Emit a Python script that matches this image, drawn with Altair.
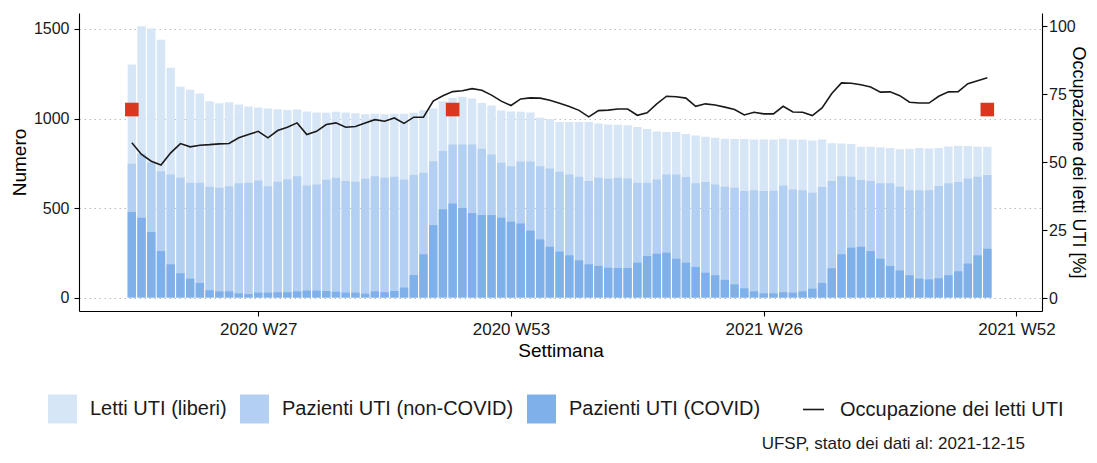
import altair as alt
import pandas as pd

# ---- categories -------------------------------------------------------------
weeks = [f"2020 W{w}" for w in range(14, 54)] + [f"2021 W{w}" for w in range(1, 50)]
axis_weeks = weeks + ["2021 W50", "2021 W51", "2021 W52"]
tick_labels = ["2020 W27", "2020 W53", "2021 W26", "2021 W52"]

series_names = ["Letti UTI (liberi)", "Pazienti UTI (non-COVID)", "Pazienti UTI (COVID)"]
line_name = "Occupazione dei letti UTI"
caption = "UFSP, stato dei dati al: 2021-12-15"

# ---- values -----------------------------------------------------------------
# total ICU beds (top of the light bars)
letti_totali = [
    1301, 1515, 1502, 1440, 1283, 1177, 1160, 1139, 1097, 1085,
    1091, 1078, 1067, 1061, 1056, 1052, 1048, 1050, 1039, 1033,
    1032, 1037, 1033, 1030, 1024, 1026, 1024, 1026, 1026, 1032,
    1046, 1056, 1097, 1115, 1121, 1112, 1087, 1072, 1045, 1039,
    1037, 1033, 1004, 996, 980, 980, 980, 980, 972, 967,
    965, 963, 952, 942, 928, 924, 924, 914, 905, 898,
    892, 887, 885, 885, 883, 883, 883, 887, 883, 883,
    877, 883, 862, 861, 857, 842, 842, 840, 836, 829,
    831, 835, 833, 836, 844, 848, 846, 842, 842,
]
# occupied ICU beds, all patients (top of the medium bars)
pazienti_totali = [
    747, 805, 753, 706, 688, 669, 641, 641, 619, 613,
    622, 638, 641, 654, 622, 647, 660, 678, 626, 632,
    658, 669, 651, 647, 664, 677, 669, 675, 660, 684,
    697, 762, 818, 855, 855, 855, 831, 799, 753, 734,
    760, 760, 734, 721, 703, 688, 675, 651, 669, 664,
    669, 665, 641, 641, 660, 688, 688, 673, 638, 645,
    632, 619, 613, 595, 600, 595, 597, 626, 604, 600,
    586, 617, 651, 678, 675, 656, 651, 638, 638, 619,
    599, 599, 599, 623, 638, 645, 665, 675, 684,
]
# COVID patients in ICU (dark bars)
pazienti_covid = [
    478, 446, 366, 260, 186, 136, 106, 82, 41, 35,
    35, 24, 20, 28, 28, 30, 30, 35, 39, 39,
    37, 33, 28, 28, 22, 35, 30, 37, 56, 126,
    242, 405, 493, 526, 500, 472, 461, 461, 446, 424,
    414, 374, 325, 284, 257, 236, 208, 186, 177, 167,
    165, 165, 195, 232, 245, 251, 217, 195, 171, 139,
    125, 99, 74, 52, 35, 24, 24, 30, 28, 35,
    50, 82, 164, 242, 279, 284, 260, 217, 177, 152,
    125, 106, 102, 108, 125, 147, 190, 236, 273,
]
# occupancy of ICU beds, % (right axis)
occupazione = [
    57.2, 52.9, 50.4, 49.0, 53.5, 56.9, 55.7, 56.3, 56.5, 56.8,
    56.9, 59.0, 60.2, 61.4, 59.0, 61.7, 62.9, 64.5, 60.2, 61.4,
    63.9, 64.5, 62.9, 63.2, 64.5, 65.7, 65.1, 66.3, 64.3, 66.6,
    66.6, 72.5, 74.5, 76.0, 76.3, 77.1, 76.5, 74.7, 72.5, 70.9,
    73.3, 73.7, 73.6, 72.8, 71.7, 70.5, 69.1, 66.7, 69.0, 69.2,
    69.6, 69.6, 67.3, 68.2, 71.5, 74.3, 74.1, 73.6, 70.6, 71.5,
    71.1, 70.3, 69.4, 67.4, 68.4, 67.8, 67.8, 70.6, 68.5, 68.4,
    67.2, 70.0, 75.3, 79.2, 79.1, 78.5, 77.7, 75.8, 75.9, 74.5,
    72.1, 71.8, 71.8, 74.3, 75.9, 76.0, 78.9, 80.0, 81.1,
]
marker_weeks = ["2020 W14", "2020 W47", "2021 W49"]
marker_values = [1050, 1050, 1050]

# ---- tables ------------------------------------------------------------------
idx = {w: i for i, w in enumerate(axis_weeks)}
tick_pos = [idx[t] for t in tick_labels]

rows = []
for order, (name, vals) in enumerate(zip(series_names, [letti_totali, pazienti_totali, pazienti_covid])):
    for w, v in zip(weeks, vals):
        rows.append({"week": w, "idx": idx[w], "serie": name, "value": v, "ord": order})
df_bars = pd.DataFrame(rows)
df_line = pd.DataFrame({"week": weeks, "idx": [idx[w] for w in weeks], "occ": occupazione, "lab": line_name})
df_mark = pd.DataFrame({"week": marker_weeks, "idx": [idx[w] for w in marker_weeks], "value": marker_values})
df_cap = pd.DataFrame({"t": [caption]})

label_expr = " : ".join(f"datum.value == {p} ? '{t}'" for p, t in zip(tick_pos, tick_labels)) + " : ''"

FONT = "Liberation Sans"
bar_colors = ["#d6e6f7", "#b3cff1", "#80b0ea"]

x_enc = alt.X(
    "idx:Q",
    scale=alt.Scale(domain=[-4.92, 93.11], nice=False, zero=False),
    axis=alt.Axis(values=tick_pos, labelExpr=label_expr, title="Settimana",
                  grid=False, labelPadding=5, titlePadding=4, labelFlush=False,
                  labelFontSize=17),
)

bars = alt.Chart(df_bars).mark_bar(size=8.4).encode(
    x=x_enc,
    y=alt.Y("value:Q", stack=None,
            scale=alt.Scale(domain=[-74.7, 1589], nice=False, zero=False),
            axis=alt.Axis(values=[0, 500, 1000, 1500], format="d", title="Numero", grid=True,
                          labelPadding=5, titlePadding=4)),
    fill=alt.Fill("serie:N",
                  scale=alt.Scale(domain=series_names, range=bar_colors),
                  legend=alt.Legend(orient="none", legendX=-31, legendY=381.5,
                                    direction="horizontal", title=None,
                                    symbolType="square", symbolSize=841,
                                    symbolStrokeWidth=0, symbolOpacity=1,
                                    labelFontSize=20, labelFont=FONT, labelColor="#1a1a1a",
                                    labelOffset=13, columnPadding=13, padding=0,
                                    labelLimit=400)),
    order=alt.Order("ord:Q"),
)

squares = alt.Chart(df_mark).mark_square(size=185, color="#d9381e", opacity=1).encode(
    x=alt.X("idx:Q"),
    y=alt.Y("value:Q"),
)

line = alt.Chart(df_line).mark_line(strokeWidth=1.6).encode(
    x=alt.X("idx:Q"),
    y=alt.Y("occ:Q",
            scale=alt.Scale(domain=[-4.66, 104.9], nice=False, zero=False),
            axis=alt.Axis(orient="right", values=[0, 25, 50, 75, 100], format="d",
                          title="Occupazione dei letti UTI [%]", grid=False,
                          labelPadding=1.5, titleFontSize=18,
                          titleAngle=90, titleAlign="center", titleBaseline="middle",
                          titleX=35, titleY=149)),
    stroke=alt.Stroke("lab:N",
                      scale=alt.Scale(domain=[line_name], range=["#1a1a1a"]),
                      legend=alt.Legend(orient="none", legendX=723, legendY=385,
                                        title=None, symbolType="stroke", symbolSize=441,
                                        symbolStrokeWidth=1.6,
                                        labelFontSize=20, labelFont=FONT, labelColor="#1a1a1a",
                                        labelOffset=15, padding=0, labelLimit=400)),
)

cap = alt.Chart(df_cap).mark_text(align="right", baseline="middle", fontSize=17,
                                  font=FONT, color="#1a1a1a").encode(
    x=alt.value(946), y=alt.value(431), text="t:N"
)

chart = alt.layer(alt.layer(bars, squares), line, cap).resolve_scale(
    y="independent"
).properties(
    width=963, height=298,
    padding={"left": 71, "top": 5, "right": 47, "bottom": 144},
    autosize=alt.AutoSizeParams(type="none"),
).configure_view(stroke=None).configure_axis(
    labelFont=FONT, labelFontSize=16, labelColor="#1a1a1a",
    titleFont=FONT, titleFontSize=19, titleColor="#000000", titleFontWeight="normal",
    domainColor="#000000", domainWidth=1.1, tickColor="#000000", tickSize=5, tickWidth=1.1,
    gridColor="#bdbdbd", gridDash=[1.5, 3.5], gridWidth=1,
)

chart.save("out.html", embed_options={"renderer": "svg", "actions": False})
